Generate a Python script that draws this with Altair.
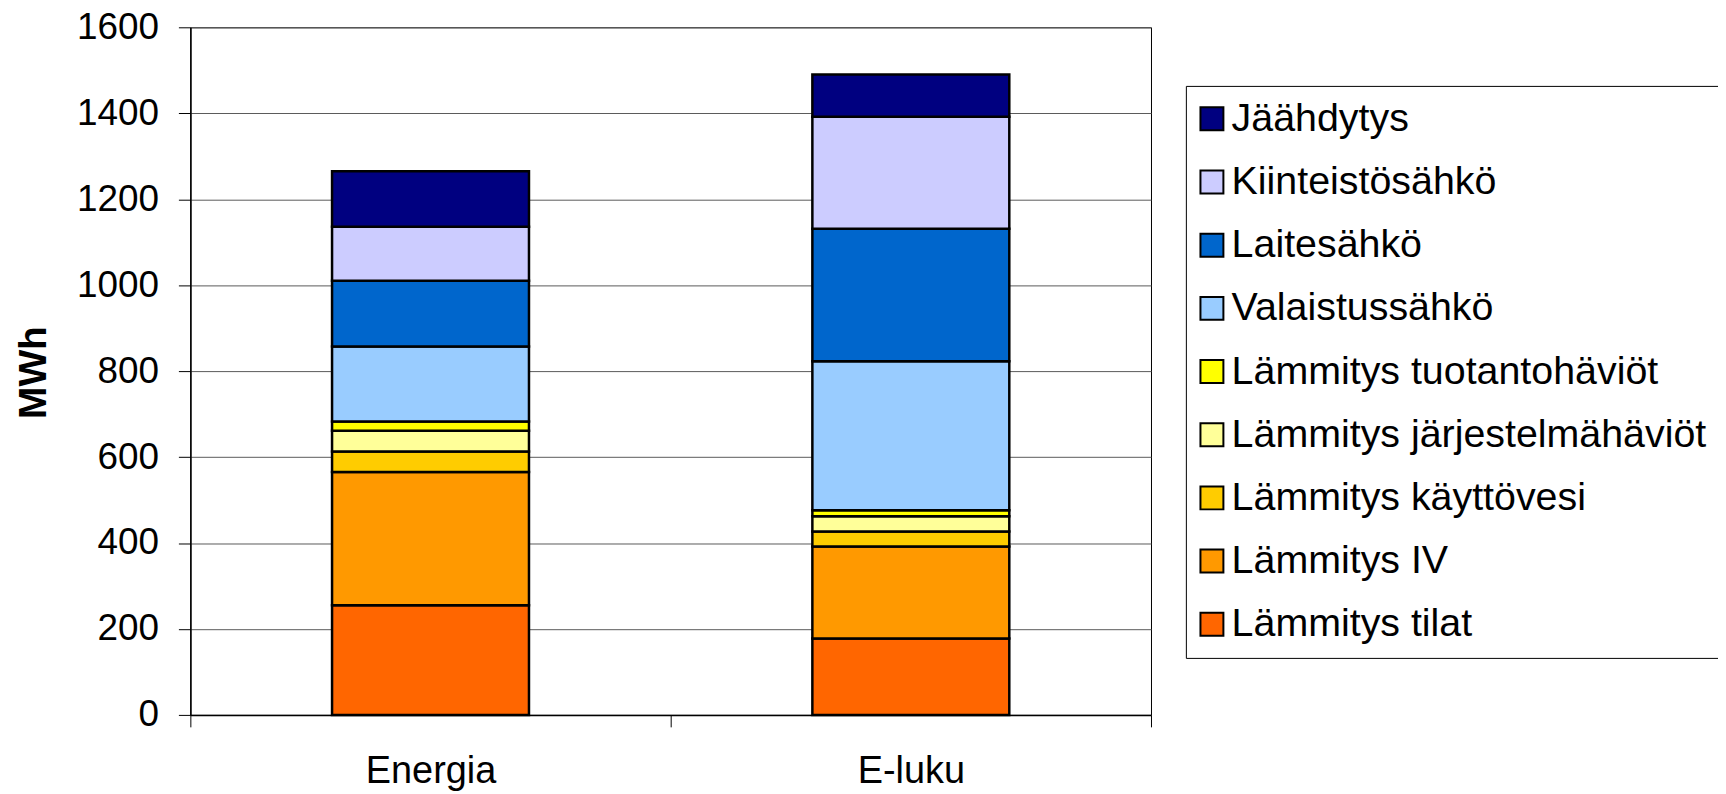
import altair as alt
import pandas as pd

categories = ["Energia", "E-luku"]

series = [
    "Lämmitys tilat",
    "Lämmitys IV",
    "Lämmitys käyttövesi",
    "Lämmitys järjestelmähäviöt",
    "Lämmitys tuotantohäviöt",
    "Valaistussähkö",
    "Laitesähkö",
    "Kiinteistösähkö",
    "Jäähdytys",
]

colors = ["#FF6600", "#FF9900", "#FFCC00", "#FFFF99", "#FFFF00",
          "#99CCFF", "#0066CC", "#CCCCFF", "#000080"]

energia = [255, 310, 48, 48, 22, 174, 153, 126, 129]
eluku = [178, 214, 35, 35, 14, 347, 308, 261, 98]

rows = []
for i, s in enumerate(series):
    rows.append({"kategoria": categories[0], "sarja": s, "arvo": energia[i], "jarj": i})
    rows.append({"kategoria": categories[1], "sarja": s, "arvo": eluku[i], "jarj": i})
df = pd.DataFrame(rows)

FONT = "Liberation Sans"

legend_domain = list(reversed(series))
legend_range = list(reversed(colors))

chart = alt.Chart(df).mark_bar(stroke="black", strokeWidth=2.5,
                               width=alt.RelativeBandSize(0.41)).encode(
    x=alt.X("kategoria:N", sort=categories, title=None,
            scale=alt.Scale(paddingInner=0, paddingOuter=0),
            axis=alt.Axis(labelAngle=0, labelFontSize=38, labelFont=FONT, labelColor="black",
                          tickBand="extent", tickSize=12, tickColor="black", tickWidth=1,
                          domainColor="black", domainWidth=1.5, labelPadding=26, grid=False)),
    y=alt.Y("arvo:Q", stack="zero", title="MWh",
            scale=alt.Scale(domain=[0, 1600], nice=False),
            axis=alt.Axis(values=[0, 200, 400, 600, 800, 1000, 1200, 1400, 1600],
                          format="d",
                          labelFontSize=37, labelFont=FONT, labelColor="black",
                          tickSize=12, tickColor="black", tickWidth=1,
                          domainColor="black", domainWidth=1.5, labelPadding=20,
                          gridColor="#5a5a5a", gridWidth=1,
                          titleFont=FONT, titleFontSize=39, titleFontWeight="bold",
                          titleColor="black", titleAngle=-90, titleX=-157, titleY=346,
                          titleAlign="center", titleBaseline="middle")),
    color=alt.Color("sarja:N", scale=alt.Scale(domain=legend_domain, range=legend_range),
                    legend=alt.Legend(title=None, orient="none", legendX=999, legendY=58.8,
                                      symbolType="square", symbolSize=530,
                                      symbolStrokeColor="black", symbolStrokeWidth=2,
                                      symbolOpacity=1, symbolOffset=-6.9,
                                      labelFontSize=39.5, labelFont=FONT, labelColor="black",
                                      labelLimit=700, labelOffset=0,
                                      padding=13.3, rowPadding=22.4,
                                      strokeColor="black", fillColor="white")),
    order=alt.Order("jarj:Q", sort="ascending"),
).properties(
    width=964,
    height=690,
    autosize=alt.AutoSizeParams(type="none"),
    padding={"left": 183, "top": 18, "right": 569, "bottom": 76},
).configure_view(
    stroke="black", strokeWidth=1
)

chart.save("out.html", embed_options={"renderer": "svg", "actions": False})
